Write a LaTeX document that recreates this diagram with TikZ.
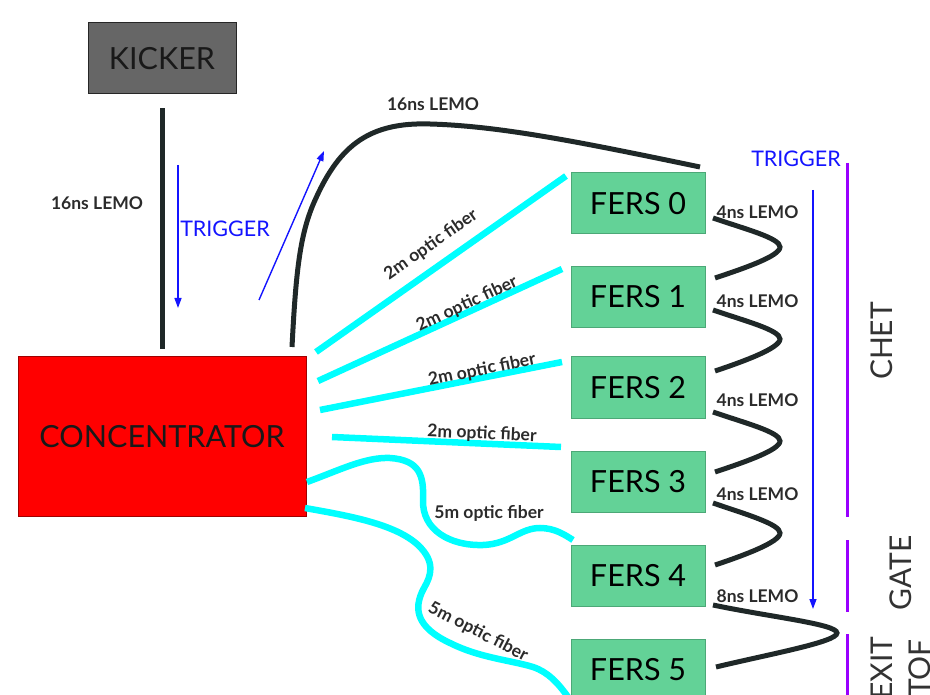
\documentclass[tikz,border=0pt]{standalone}
\usepackage{fontspec}
\setmainfont{Lato}
\usetikzlibrary{arrows.meta,calc}
\definecolor{fersfill}{HTML}{63D297}
\definecolor{fersline}{HTML}{4CA877}
\definecolor{lemo}{HTML}{1F2828}
\definecolor{fib}{HTML}{00FFFF}
\definecolor{trig}{HTML}{1414FF}
\definecolor{purp}{HTML}{9900FF}
\definecolor{kick}{HTML}{666666}
\definecolor{concfill}{HTML}{FF0000}
\definecolor{concline}{HTML}{A00000}
\definecolor{lbltext}{HTML}{2B2B2B}
\definecolor{sidetext}{HTML}{333333}
\tikzset{
  box/.style={draw, line width=1pt, inner sep=0pt, font=\fontsize{30.5}{32}\selectfont},
  fersbox/.style={box, draw=fersline, fill=fersfill, minimum width=134pt, minimum height=61pt},
  lemoline/.style={draw=lemo, line width=5pt},
  fiber/.style={draw=fib, line width=6.5pt},
  lbl/.style={font=\bfseries\fontsize{17.5}{19}\selectfont, text=lbltext, inner sep=0pt},
  trigarrow/.style={draw=trig, line width=1.4pt, -{Triangle[length=10pt,width=7pt]}},
  trigtxt/.style={text=trig, font=\fontsize{21.5}{23}\selectfont, inner sep=0pt},
  purpline/.style={draw=purp, line width=3pt},
  sidetxt/.style={font=\fontsize{30}{38}\selectfont, rotate=90, text=sidetext, inner sep=0pt, align=center}
}
\begin{document}
\begin{tikzpicture}[x=1pt,y=-1pt]
\useasboundingbox (0,0) rectangle (930,695);

% boxes
\node[box, draw=black!85, fill=kick, minimum width=148pt, minimum height=71pt, text=black!90] (kicker) at (162,58.5) {KICKER};
\node[box, draw=concline, fill=concfill, minimum width=288pt, minimum height=159pt, text=black!90] (conc) at (162,436.5) {CONCENTRATOR};
\node[fersbox] (f0) at (638,203.5) {FERS 0};
\node[fersbox] (f1) at (638,297) {FERS 1};
\node[fersbox] (f2) at (638,387.5) {FERS 2};
\node[fersbox] (f3) at (638,481.5) {FERS 3};
\node[fersbox] (f4) at (638,576) {FERS 4};
\node[fersbox] (f5) at (638,670) {FERS 5};

% kicker - concentrator lemo
\draw[lemoline] ([yshift=-14pt]kicker.south) -- ([yshift=7pt]conc.north);
\node[lbl] (l16a) at (97,203) {16ns LEMO};
\coordinate (ta1) at (178,165);
\coordinate (ta2) at (178,308);
\draw[trigarrow] (ta1) -- (ta2);
\node[trigtxt] (trg1) at (225,229) {TRIGGER};
\coordinate (tb1) at (259,300);
\coordinate (tb2) at (324,151);
\draw[trigarrow] (tb1) -- (tb2);

% concentrator - FERS0 lemo
\coordinate (c16s) at (292,347);
\coordinate (c16e) at (700,167);
\draw[lemoline] (c16s) .. controls (296,270) and (300,232) .. (316,198)
  .. controls (340,145) and (370,122) .. (430,124)
  .. controls (500,126) and (580,142) .. (c16e);
\node[lbl] (l16b) at (433,104) {16ns LEMO};

% fibers
\coordinate (a0) at (316,352); \coordinate (b0) at (566,176);
\coordinate (a1) at (318,381); \coordinate (b1) at (562,269);
\coordinate (a2) at (320,410); \coordinate (b2) at (562,362);
\coordinate (a3) at (332,437); \coordinate (b3) at (561,447);
\coordinate (a4) at (307,482); \coordinate (b4) at (573,540);
\coordinate (a5) at (305,508); \coordinate (b5) at (568,697);
\draw[fiber] (a0) -- (b0);
\draw[fiber] (a1) -- (b1);
\draw[fiber] (a2) -- (b2);
\draw[fiber] (a3) -- (b3);
\draw[fiber] (a4) .. controls (340,470) and (365,457) .. (390,458)
  .. controls (420,460) and (424,476) .. (423,500)
  .. controls (422,530) and (450,546) .. (483,545)
  .. controls (510,544) and (520,528) .. (540,528)
  .. controls (555,528) and (565,535) .. (b4);
\draw[fiber] (a5) .. controls (350,516) and (395,524) .. (418,545)
  .. controls (436,562) and (431,576) .. (424,588)
  .. controls (412,610) and (418,628) .. (450,643)
  .. controls (480,658) and (510,660) .. (533,667)
  .. controls (548,672) and (558,683) .. (b5);
\node[lbl, rotate=35] (lf0) at (431,245) {2m optic fiber};
\node[lbl, rotate=25] (lf1) at (467,304) {2m optic fiber};
\node[lbl, rotate=11.5] (lf2) at (482,370) {2m optic fiber};
\node[lbl, rotate=-2.6] (lf3) at (482,434) {2m optic fiber};
\node[lbl] (lf4) at (489,513) {5m optic fiber};
\node[lbl, rotate=-27] (lf5) at (478,632) {5m optic fiber};

% daisy chain lemos
\coordinate (z0s) at (713,218); \coordinate (z0e) at (715,278);
\coordinate (z1s) at (713,310); \coordinate (z1e) at (715,371);
\coordinate (z2s) at (713,412); \coordinate (z2e) at (715,472);
\coordinate (z3s) at (713,503); \coordinate (z3e) at (715,565);
\coordinate (z4s) at (713,605); \coordinate (z4e) at (716,667);
\draw[lemoline] (z0s) .. controls (745,229) and (780,238) .. (780,247) .. controls (780,256) and (745,268) .. (z0e);
\draw[lemoline] (z1s) .. controls (745,321) and (780,330) .. (780,339) .. controls (780,348) and (745,361) .. (z1e);
\draw[lemoline] (z2s) .. controls (745,423) and (780,432) .. (780,441) .. controls (780,450) and (745,462) .. (z2e);
\draw[lemoline] (z3s) .. controls (745,514) and (780,524) .. (780,533) .. controls (780,542) and (745,555) .. (z3e);
\draw[lemoline] (z4s) .. controls (770,617) and (837,624) .. (837,633) .. controls (837,642) and (770,654) .. (z4e);
\node[lbl] (lz0) at (757.5,212) {4ns LEMO};
\node[lbl] (lz1) at (757.5,301) {4ns LEMO};
\node[lbl] (lz2) at (757.5,400) {4ns LEMO};
\node[lbl] (lz3) at (757.5,494) {4ns LEMO};
\node[lbl] (lz4) at (757.5,596) {8ns LEMO};

% right trigger
\coordinate (tc1) at (813,190);
\coordinate (tc2) at (813,609);
\draw[trigarrow] (tc1) -- (tc2);
\node[trigtxt] (trg2) at (796,159) {TRIGGER};

% purple groups
\coordinate (p1a) at (847,163); \coordinate (p1b) at (847,517);
\coordinate (p2a) at (847,540); \coordinate (p2b) at (847,612);
\coordinate (p3a) at (847,634); \coordinate (p3b) at (847,700);
\draw[purpline] (p1a) -- (p1b);
\draw[purpline] (p2a) -- (p2b);
\draw[purpline] (p3a) -- (p3b);
\node[sidetxt] (chet) at (882,341) {CHET};
\node[sidetxt] (gate) at (901,573) {GATE};
\node[sidetxt] (exit) at (901,668) {EXIT\\TOF};
\end{tikzpicture}
\end{document}
